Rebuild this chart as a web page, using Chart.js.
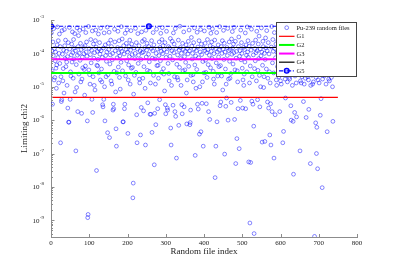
<!DOCTYPE html>
<html>
<head>
<meta charset="utf-8">
<script src="https://cdn.jsdelivr.net/npm/chart.js@4/dist/chart.umd.min.js"></script>
<style>
  body { margin: 0; background: #fff; }
  canvas { display: block; }
</style>
</head>
<body>
<canvas id="chi2Chart" width="395" height="266"></canvas>
<script>
const FONT = '"Liberation Serif", "Times New Roman", serif';
const axisGray = '#8c8c8c';
const textColor = '#222';

// x axis ticks and y axis decades (10^e)
const xTicks = [0, 100, 200, 300, 400, 500, 600, 700, 800];
const yTickExponents = [-3, -4, -5, -6, -7, -8, -9];

const fileCount = 750;

// files that fall below the G1 level, [file index, limiting chi2]
const lowFiles = [
    [4, 3.0e-6], [25, 2.1e-7], [27, 3.6e-6], [28, 4.1e-6], [44, 2.3e-6], [46, 8.7e-7], [47, 8.7e-7], [50, 4.2e-6],
    [65, 1.2e-7], [70, 1.8e-6], [80, 1.6e-6], [95, 9.5e-7], [96, 1.2e-9], [97, 1.5e-9], [107, 4.2e-6], [109, 1.7e-6],
    [119, 3.1e-8], [135, 2.9e-6], [136, 2.5e-6], [138, 4.2e-6], [141, 9.5e-7], [148, 4.2e-7], [153, 3.0e-7], [162, 2.0e-6],
    [163, 3.0e-6], [164, 2.2e-6], [170, 5.5e-7], [171, 1.66e-7], [188, 8.9e-7], [189, 8.9e-7], [192, 2.2e-6], [193, 3.0e-6],
    [201, 4.0e-7], [214, 4.7e-9], [215, 1.3e-8], [224, 1.45e-6], [225, 2.1e-7], [234, 3.6e-7], [236, 2.4e-6], [242, 1.9e-6],
    [247, 1.8e-7], [253, 3.3e-6], [259, 1.5e-6], [261, 1.5e-6], [264, 4.3e-7], [270, 4.6e-8], [271, 1.6e-6], [274, 7.3e-7],
    [279, 2.2e-6], [284, 4.1e-6], [299, 2.9e-6], [300, 1.55e-6], [304, 2.3e-6], [305, 2.0e-6], [313, 5.8e-7], [314, 1.8e-7],
    [319, 2.8e-6], [324, 1.8e-6], [326, 1.3e-6], [328, 7.3e-8], [334, 7.0e-7], [342, 2.9e-6], [343, 1.55e-6], [348, 2.5e-6],
    [355, 7.7e-7], [363, 7.3e-7], [364, 8.5e-7], [365, 2.0e-6], [377, 8.8e-8], [383, 3.0e-6], [385, 2.15e-6], [388, 3.8e-7],
    [392, 4.5e-7], [395, 3.2e-6], [398, 1.66e-7], [406, 3.1e-6], [412, 1.8e-6], [415, 1.05e-6], [429, 1.9e-8], [431, 1.66e-7],
    [434, 8.9e-7], [442, 2.7e-6], [444, 3.5e-6], [454, 9.6e-8], [457, 2.6e-6], [459, 4.6e-6], [463, 1.0e-6], [471, 3.4e-6],
    [480, 1.05e-6], [483, 5.0e-8], [486, 2.8e-7], [489, 2.2e-6], [492, 1.4e-7], [495, 3.9e-6], [501, 2.3e-6], [509, 2.2e-6],
    [517, 5.6e-8], [520, 8.3e-10], [522, 5.4e-8], [525, 3.7e-6], [528, 3.0e-6], [530, 6.6e-7], [531, 4.0e-10], [540, 4.1e-6],
    [546, 2.5e-6], [552, 2.2e-7], [559, 2.3e-7], [566, 3.5e-6], [569, 2.3e-6], [572, 3.6e-7], [574, 3.1e-6], [575, 1.8e-7],
    [578, 1.8e-6], [583, 7.3e-8], [586, 1.45e-6], [598, 1.8e-6], [606, 2.1e-7], [608, 4.6e-7], [613, 4.6e-6], [627, 2.7e-6],
    [628, 1.0e-6], [633, 9.2e-7], [634, 2.4e-8], [637, 1.7e-6], [642, 1.25e-6], [651, 1.2e-7], [660, 3.6e-6], [667, 1.2e-6],
    [674, 2.1e-6], [678, 5.0e-8], [689, 3.3e-10], [692, 8.3e-7], [694, 1.0e-7], [695, 6.1e-7], [697, 3.5e-8], [704, 1.4e-6],
    [706, 4.4e-6], [709, 9.5e-9], [722, 4.5e-7], [737, 9.2e-7]
];

// the dense band of files, in file order (indices not taken by lowFiles)
const bandChi2 = [
    4.1e-4, 1.2e-4, 3.0e-5, 2.2e-4, 8.5e-5, 5.5e-4, 1.6e-5, 1.4e-4, 1.9e-5, 6.0e-5, 1.1e-4, 3.6e-5, 9.0e-6, 4.5e-5, 1.8e-4, 6.2e-4, 7.5e-5, 2.4e-4, 1.3e-5, 1.0e-4,
    3.8e-4, 5.0e-5, 1.6e-4, 2.0e-5, 4.8e-4, 9.5e-5, 1.5e-5, 3.5e-5, 1.25e-4, 6.5e-6, 5.2e-4, 1.7e-4, 7.0e-5, 2.5e-4, 4.0e-5, 1.15e-4, 5.5e-5, 1.1e-5, 8.0e-5, 2.1e-4,
    6.0e-4, 1.35e-4, 2.8e-5, 2.1e-5, 9.0e-5, 1.9e-4, 5.5e-5, 4.4e-4, 1.05e-4, 1.8e-5, 2.6e-4, 6.8e-5, 1.45e-4, 3.9e-4, 7.0e-6, 1.2e-4, 4.6e-5, 9.5e-6, 5.8e-4, 8.8e-5,
    1.6e-4, 3.4e-4, 2.4e-5, 1.0e-4, 4.9e-4, 6.2e-5, 2.0e-4, 1.4e-5, 1.3e-4, 1.7e-5, 7.8e-5, 3.7e-5, 5.4e-4, 1.5e-4, 9.8e-5, 3.3e-5, 5.6e-6, 1.7e-4, 4.2e-5, 4.2e-4,
    1.1e-4, 2.2e-4, 8.2e-5, 6.4e-4, 3.2e-5, 1.4e-4, 2.3e-5, 1.2e-5, 9.2e-5, 2.6e-4, 5.2e-5, 1.25e-4, 4.7e-4, 2.0e-5, 1.9e-4, 7.2e-5, 1.1e-5, 1.05e-4, 8.0e-6, 2.4e-4,
    5.0e-4, 1.55e-4, 4.4e-5, 1.15e-4, 4.2e-5, 6.6e-5, 3.8e-4, 2.6e-5, 1.35e-4, 2.1e-4, 9.5e-5, 1.6e-5, 5.7e-4, 1.2e-4, 3.4e-5, 1.4e-5, 7.6e-5, 1.45e-4, 4.1e-4, 1.0e-5,
    1.8e-4, 8.6e-5, 2.0e-5, 5.8e-5, 1.1e-4, 6.1e-4, 2.3e-5, 2.0e-4, 1.3e-4, 4.3e-4, 4.8e-5, 9.0e-5, 2.5e-4, 1.5e-5, 1.6e-4, 1.2e-5, 6.4e-5, 1.0e-4, 2.9e-5, 5.3e-4,
    2.2e-4, 1.2e-4, 7.0e-6, 2.6e-5, 7.4e-5, 1.5e-4, 4.6e-4, 3.9e-5, 1.05e-4, 2.4e-4, 1.9e-5, 8.4e-5, 8.5e-6, 1.4e-4, 5.4e-5, 6.3e-4, 1.15e-4, 2.7e-4, 3.0e-5, 1.7e-4,
    9.6e-5, 4.0e-4, 2.1e-5, 1.3e-4, 2.0e-4, 6.0e-5, 5.1e-4, 1.1e-4, 1.6e-5, 4.5e-5, 1.6e-4, 8.0e-5, 2.5e-4, 1.2e-5, 1.25e-4, 4.8e-4, 3.6e-5, 1.9e-4, 9.2e-5, 3.8e-5,
    6.0e-6, 1.45e-4, 2.2e-5, 7.0e-5, 1.0e-4, 5.6e-4, 2.7e-5, 2.1e-4, 1.35e-4, 3.9e-4, 5.0e-5, 8.8e-5, 1.7e-4, 1.7e-5, 1.3e-5, 1.2e-4, 6.6e-5, 4.4e-4, 1.05e-4, 2.3e-4,
    1.8e-5, 1.1e-4, 4.0e-5, 2.6e-4, 1.5e-4, 9.0e-6, 4.9e-4, 7.8e-5, 1.25e-4, 2.0e-4, 3.1e-5, 6.2e-4, 9.4e-5, 1.6e-4, 5.6e-5, 2.9e-5, 1.3e-5, 1.4e-4, 2.4e-4, 7.2e-5,
    1.2e-4, 4.2e-4, 2.2e-5, 1.8e-4, 6.8e-5, 1.2e-5, 1.0e-4, 5.3e-4, 4.3e-5, 1.35e-4, 4.4e-5, 1.8e-5, 8.6e-5, 2.2e-4, 1.5e-4, 6.0e-5, 4.0e-4, 1.15e-4, 2.7e-5, 2.6e-4,
    5.9e-4, 9.8e-5, 1.7e-4, 3.5e-5, 2.4e-5, 1.3e-4, 7.5e-6, 2.1e-4, 7.6e-5, 4.6e-4, 1.1e-4, 5.0e-5, 1.6e-4, 2.5e-5, 1.5e-5, 1.45e-4, 8.2e-5, 2.8e-4, 1.1e-5, 1.2e-4,
    2.3e-4, 6.4e-5, 4.1e-4, 1.05e-4, 1.9e-4, 2.0e-5, 5.5e-4, 1.4e-4, 4.7e-5, 1.9e-5, 9.0e-5, 1.6e-5, 2.5e-4, 1.25e-4, 3.8e-5, 6.5e-4, 1.5e-4, 7.0e-5, 1.1e-5, 1.0e-4,
    2.0e-4, 3.0e-5, 1.3e-4, 4.4e-4, 8.0e-5, 3.2e-5, 1.15e-4, 5.4e-5, 1.8e-4, 6.5e-6, 1.6e-5, 1.4e-4, 9.6e-5, 2.3e-4, 4.1e-5, 5.0e-4, 1.2e-4, 2.2e-5, 3.0e-4, 1.65e-4,
    6.8e-5, 1.0e-4, 2.3e-5, 1.4e-5, 2.1e-4, 1.35e-4, 5.8e-4, 4.5e-5, 8.4e-5, 9.0e-6, 1.2e-4, 3.3e-5, 4.3e-4, 1.55e-4, 7.4e-5, 2.4e-4, 1.0e-5, 1.1e-4, 5.2e-4, 1.9e-4,
    9.2e-5, 1.4e-5, 5.7e-5, 1.45e-4, 2.6e-5, 4.7e-4, 1.2e-4, 2.0e-4, 6.2e-5, 2.7e-5, 1.05e-4, 1.9e-5, 2.6e-4, 1.3e-4, 4.6e-5, 6.1e-4, 8.8e-5, 1.7e-4, 3.7e-5, 4.0e-4,
    1.15e-4, 2.2e-4, 7.0e-5, 5.4e-4, 1.5e-4, 2.9e-5, 1.7e-5, 9.8e-5, 1.2e-5, 2.5e-4, 1.4e-4, 5.2e-5, 4.2e-4, 1.1e-4, 2.1e-5, 1.8e-4, 7.8e-5, 4.0e-5, 1.25e-4, 6.3e-4,
    4.3e-5, 1.6e-4, 2.1e-5, 1.0e-4, 2.4e-4, 8.0e-6, 1.35e-4, 4.9e-4, 6.6e-5, 2.0e-4, 1.1e-4, 3.4e-5, 1.2e-5, 1.5e-4, 8.6e-5, 5.6e-4, 1.7e-5, 1.2e-4, 2.2e-4, 5.8e-5,
    1.8e-5, 1.3e-4, 2.5e-5, 2.7e-4, 9.4e-5, 4.5e-4, 1.45e-4, 4.8e-5, 1.9e-4, 1.05e-4, 6.0e-4, 3.2e-5, 2.3e-4, 7.2e-5, 1.15e-4, 3.0e-5, 1.4e-5, 1.6e-4, 3.1e-4, 8.2e-5,
    1.2e-4, 5.0e-4, 6.4e-5, 2.1e-4, 1.0e-4, 3.6e-5, 1.6e-5, 1.5e-4, 1.1e-5, 2.4e-5, 1.3e-4, 5.5e-5, 4.1e-4, 1.8e-4, 8.8e-5, 2.8e-5, 6.2e-4, 1.1e-4, 2.4e-4, 7.6e-5,
    1.65e-4, 1.3e-5, 4.2e-5, 1.25e-4, 5.3e-4, 2.0e-5, 2.0e-4, 9.0e-5, 3.5e-5, 1.4e-4, 6.0e-5, 2.5e-4, 1.05e-4, 1.5e-5, 4.6e-4, 1.2e-4, 3.1e-5, 1.9e-4, 7.0e-5, 3.3e-4,
    2.2e-5, 1.35e-4, 1.0e-5, 8.4e-5, 5.8e-4, 1.1e-4, 4.4e-5, 2.3e-4, 1.6e-4, 9.5e-6, 2.0e-5, 1.0e-4, 6.6e-5, 2.9e-4, 1.45e-4, 3.4e-5, 4.8e-4, 1.2e-4, 1.8e-5, 2.1e-4,
    9.6e-5, 2.8e-5, 1.3e-5, 1.55e-4, 6.4e-4, 5.2e-5, 2.6e-4, 1.15e-4, 2.6e-5, 4.2e-4, 1.4e-4, 7.4e-5, 1.9e-4, 1.6e-5, 1.1e-5, 1.05e-4, 4.0e-5, 2.4e-4, 1.25e-4, 5.5e-4,
    2.0e-5, 1.7e-4, 8.0e-5, 1.5e-5, 1.3e-4, 1.2e-5, 2.2e-4, 6.2e-5, 4.7e-4, 1.1e-4, 2.4e-5, 3.1e-5, 1.5e-4, 1.7e-5, 9.2e-5, 3.6e-4, 2.2e-5, 1.2e-4, 1.4e-5, 2.0e-4,
    5.0e-5, 6.0e-4, 1.35e-4, 1.9e-5, 1.7e-5, 1.0e-4, 2.8e-5, 1.8e-4, 4.4e-4, 1.1e-5, 7.0e-5, 2.5e-4, 1.45e-4, 2.1e-5, 5.1e-4, 1.15e-4, 1.3e-5, 2.5e-5, 8.6e-5, 1.6e-4,
    2.3e-5, 2.2e-4, 1.25e-4, 5.8e-5, 4.0e-4, 1.5e-5, 1.6e-4, 1.3e-5, 9.8e-5, 2.0e-5, 5.7e-4, 1.4e-4, 3.9e-5, 2.1e-4, 1.2e-5, 3.4e-5, 1.05e-4, 1.8e-5, 4.6e-4, 7.2e-5,
    1.3e-4, 2.5e-5, 2.0e-5, 1.7e-4, 1.6e-5, 6.4e-5, 2.4e-4, 1.1e-4, 1.1e-5, 4.9e-4, 1.9e-4, 2.2e-5, 8.2e-5, 1.2e-5, 1.35e-4, 1.4e-5, 2.6e-4, 4.8e-5, 1.2e-4, 6.1e-4,
    1.9e-5, 1.5e-4, 1.6e-5, 5.4e-5, 2.0e-4, 1.3e-5, 1.0e-4, 4.3e-4, 2.6e-5, 1.6e-4, 2.3e-4, 1.7e-5, 9.0e-5, 2.8e-5, 1.15e-4, 2.1e-5, 5.2e-4, 1.45e-4, 3.5e-5, 2.7e-4,
    1.2e-5, 1.25e-4, 4.1e-4, 7.6e-5, 1.8e-4, 2.4e-5, 1.7e-5, 1.05e-4, 1.5e-5, 2.2e-4, 5.9e-4, 4.2e-5, 1.4e-4, 1.9e-5, 2.6e-5, 1.1e-4, 1.0e-5, 3.2e-4, 6.8e-5, 1.6e-4
];

// reference levels, drawn from file 0 to file 750
const levelNames = ['G1', 'G2', 'G3', 'G4', 'G5'];
const levelValues = [4.8e-6, 2.6e-5, 6.7e-5, 1.5e-4, 6.5e-4];
const levelSpan = [0, 750];
const g5MarkerIndex = [0, 256, 750];

function BuildFileData()
{
    const low = new Map(lowFiles.map(p => [p[0], p[1]]));
    const points = [];
    let k = 0;
    for (let i = 1; i <= fileCount; i++)
    {
        if (low.has(i))
        {
            points.push({x: i, y: low.get(i)});
        }
        else if (k < bandChi2.length)
        {
            points.push({x: i, y: bandChi2[k++]});
        }
    }
    return points;
}

function LevelLine(index, color, width, extra)
{
    const xs = index === 4 ? g5MarkerIndex : levelSpan;
    return Object.assign({
        label: levelNames[index],
        data: xs.map(x => ({x: x, y: levelValues[index]})),
        showLine: true,
        borderColor: color,
        backgroundColor: color,
        borderWidth: width,
        pointRadius: 0,
        order: 1,
    }, extra || {});
}

const filesStyle = {
    borderColor: 'rgba(0,0,255,0.6)',
    borderWidth: 0.8,
    radius: 1.9,
};

// tick marks inside the axes, decade labels with superscripts, and the legend box
const matlabAxes = {
    id: 'matlabAxes',
    afterDraw(chart)
    {
        const {ctx, chartArea} = chart;
        const xs = chart.scales.x;
        const ys = chart.scales.y;
        ctx.save();

        ctx.strokeStyle = axisGray;
        ctx.lineWidth = 1;
        ctx.beginPath();
        xTicks.forEach(v => {
            const px = Math.round(xs.getPixelForValue(v)) + 0.5;
            ctx.moveTo(px, chartArea.bottom);
            ctx.lineTo(px, chartArea.bottom - 3);
        });
        for (let e = -10; e <= -3; e++)
        {
            for (let m = 1; m <= 9; m++)
            {
                const v = m * Math.pow(10, e);
                if (v < ys.min || v > ys.max * 1.0001) continue;
                const py = Math.round(ys.getPixelForValue(v)) + 0.5;
                ctx.moveTo(chartArea.left, py);
                ctx.lineTo(chartArea.left + (m === 1 ? 3.5 : 2), py);
            }
        }
        ctx.stroke();

        ctx.fillStyle = textColor;
        ctx.textBaseline = 'middle';
        yTickExponents.forEach(e => {
            const py = ys.getPixelForValue(Math.pow(10, e));
            ctx.font = '7px ' + FONT;
            ctx.textAlign = 'right';
            ctx.fillText('10', 39.5, py + 0.5);
            ctx.font = '5px ' + FONT;
            ctx.textAlign = 'left';
            ctx.fillText('-' + (-e), 39.8, py - 3);
        });

        // legend
        const box = {left: 276.5, top: 22.5, right: 356.5, bottom: 76.5};
        ctx.fillStyle = '#fff';
        ctx.fillRect(box.left, box.top, box.right - box.left, box.bottom - box.top);
        ctx.strokeStyle = '#444';
        ctx.lineWidth = 1;
        ctx.strokeRect(box.left, box.top, box.right - box.left, box.bottom - box.top);

        const items = chart.data.datasets.slice().sort((a, b) => a.legendOrder - b.legendOrder);
        items.forEach((ds, i) => {
            const cy = 27.7 + i * 8.62;
            if (ds.showLine)
            {
                ctx.beginPath();
                ctx.setLineDash(ds.borderDash || []);
                ctx.strokeStyle = ds.borderColor;
                ctx.lineWidth = ds.borderWidth;
                ctx.moveTo(279, cy);
                ctx.lineTo(294.5, cy);
                ctx.stroke();
                ctx.setLineDash([]);
            }
            if (!ds.showLine || ds.legendMarker)
            {
                ctx.beginPath();
                ctx.arc(286.7, cy, ds.legendMarker ? 2.4 : filesStyle.radius, 0, Math.PI * 2);
                ctx.fillStyle = ds.legendMarker ? ds.pointBackgroundColor : 'rgba(0,0,0,0)';
                ctx.fill();
                ctx.strokeStyle = ds.legendMarker ? ds.pointBorderColor : filesStyle.borderColor;
                ctx.lineWidth = ds.legendMarker ? 1.3 : filesStyle.borderWidth;
                ctx.stroke();
            }
            ctx.fillStyle = textColor;
            ctx.font = '6.5px ' + FONT;
            ctx.textAlign = 'left';
            ctx.textBaseline = 'middle';
            ctx.fillText(ds.label, 296.5, cy + 0.3);
        });
        ctx.restore();
    }
};

const ctx = document.getElementById('chi2Chart');
const chart = new Chart(ctx,
    {
        type: 'scatter',
        data:
            {
                datasets:
                    [
                        LevelLine(4, '#0000ff', 1.2, {
                            borderDash: [4, 1.6, 1, 1.6],
                            pointRadius: 2.4,
                            pointBorderWidth: 1.3,
                            pointBorderColor: '#0000ff',
                            pointBackgroundColor: 'rgba(0,0,255,0.35)',
                            legendMarker: true,
                            legendOrder: 5,
                        }),
                        LevelLine(3, '#000000', 1.2, {legendOrder: 4}),
                        LevelLine(2, '#ff00ff', 2, {legendOrder: 3}),
                        LevelLine(1, '#00ff00', 2, {legendOrder: 2}),
                        LevelLine(0, '#ff0000', 1.2, {legendOrder: 1}),
                        {
                            label: 'Pu-239 random files',
                            data: BuildFileData(),
                            pointStyle: 'circle',
                            pointRadius: filesStyle.radius,
                            pointBorderWidth: filesStyle.borderWidth,
                            pointBorderColor: filesStyle.borderColor,
                            pointBackgroundColor: 'rgba(0,0,0,0)',
                            order: 2,
                            legendOrder: 0,
                        },
                    ]
            },
        options:
            {
                responsive: false,
                animation: false,
                layout: {padding: {top: 20, right: 38, left: 0, bottom: 0}},
                plugins:
                    {
                        legend: {display: false},
                        tooltip: {enabled: false},
                    },
                scales:
                    {
                        x:
                            {
                                type: 'linear',
                                min: 0,
                                max: 800,
                                grid: {display: false, drawTicks: false},
                                border: {color: axisGray, width: 1},
                                ticks:
                                    {
                                        stepSize: 100,
                                        padding: 2,
                                        maxRotation: 0,
                                        color: textColor,
                                        font: {family: FONT, size: 7},
                                    },
                                title:
                                    {
                                        display: true,
                                        text: 'Random file index',
                                        color: textColor,
                                        font: {family: FONT, size: 9},
                                        padding: {top: 0, bottom: 9},
                                    },
                                afterFit(scale) { scale.height = 29; },
                            },
                        y:
                            {
                                type: 'logarithmic',
                                min: 3.16e-10,
                                max: 1e-3,
                                grid: {display: false, drawTicks: false},
                                border: {color: axisGray, width: 1},
                                ticks: {display: false},
                                title:
                                    {
                                        display: true,
                                        text: 'Limiting chi2',
                                        color: textColor,
                                        font: {family: FONT, size: 9},
                                        padding: {top: 19.5, bottom: 0},
                                    },
                                afterFit(scale) { scale.width = 51; },
                            },
                    },
            },
        plugins: [matlabAxes],
    });
</script>
</body>
</html>
